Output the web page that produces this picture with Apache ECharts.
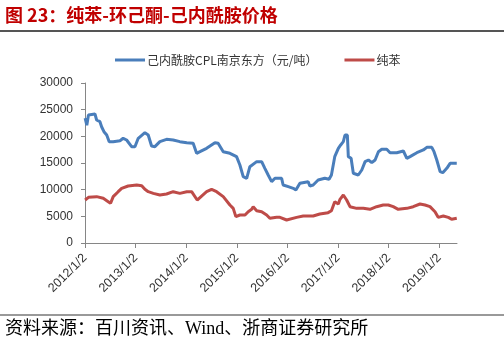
<!DOCTYPE html>
<html><head><meta charset="utf-8">
<script src="https://cdn.jsdelivr.net/npm/echarts@6/dist/echarts.min.js"></script>
<style>html,body{margin:0;padding:0;background:#fff}#c{width:504px;height:343px}</style>
</head><body><div id="c"></div>
<script>
const cplName = '己内酰胺CPL南京东方（元/吨）';
const benzeneName = '纯苯';
const xTickYears = [2012, 2013, 2014, 2015, 2016, 2017, 2018, 2019];
const yTicks = [0, 5000, 10000, 15000, 20000, 25000, 30000];

const cplDates = ['2012-01-02','2012-01-14','2012-01-26','2012-03-13','2012-03-25','2012-04-18','2012-04-30','2012-05-17','2012-06-06','2012-06-24','2012-07-23','2012-09-10','2012-10-03','2012-10-28','2012-12-03','2012-12-27','2013-01-20','2013-03-09','2013-04-02','2013-04-26','2013-05-20','2013-06-25','2013-08-12','2013-09-29','2013-11-16','2014-01-05','2014-02-20','2014-03-17','2014-04-10','2014-05-28','2014-07-27','2014-08-19','2014-09-25','2014-11-12','2014-12-30','2015-01-23','2015-02-16','2015-03-13','2015-04-05','2015-05-24','2015-06-29','2015-07-22','2015-08-15','2015-09-09','2015-10-03','2015-11-20','2015-12-01','2016-01-07','2016-02-12','2016-03-02','2016-03-31','2016-04-12','2016-05-30','2016-06-11','2016-07-05','2016-08-10','2016-09-27','2016-10-28','2016-11-14','2016-12-08','2017-01-03','2017-01-20','2017-02-08','2017-02-20','2017-03-09','2017-03-16','2017-04-05','2017-04-21','2017-05-27','2017-06-21','2017-07-15','2017-08-08','2017-09-01','2017-09-25','2017-10-19','2017-11-12','2017-12-18','2018-01-11','2018-02-28','2018-04-17','2018-05-12','2018-06-04','2018-07-23','2018-09-08','2018-10-03','2018-11-08','2018-11-24','2018-12-14','2019-01-07','2019-01-26','2019-02-24','2019-03-20','2019-05-07'];
const cplValues = [23400,22100,24000,24200,23060,22750,21800,20870,20250,19000,19000,19180,19630,19310,18060,18060,19630,20680,20250,18190,18060,19000,19440,19310,19000,18810,18690,16820,17120,17750,18810,18690,17120,16820,16190,14630,12430,12130,14310,15250,15250,14000,12750,11500,12130,12130,10880,10560,10250,9940,11190,11500,11500,10690,10880,11810,12130,11940,12750,16190,17750,18380,19000,20250,20250,16190,15880,13070,12750,13690,15250,15560,15060,15560,17120,17570,17570,16930,16930,17250,15880,16190,16930,17440,17940,17940,17120,15560,13370,13190,14000,14940,14940];

const benzeneDates = ['2012-01-02','2012-01-26','2012-03-25','2012-05-12','2012-06-17','2012-07-04','2012-07-23','2012-08-28','2012-09-22','2012-11-08','2013-01-09','2013-02-14','2013-03-09','2013-04-02','2013-05-09','2013-06-25','2013-08-12','2013-09-29','2013-11-16','2014-01-05','2014-02-09','2014-03-21','2014-04-22','2014-05-28','2014-07-03','2014-08-08','2014-09-25','2014-11-12','2014-12-06','2014-12-25','2015-01-23','2015-03-01','2015-03-24','2015-04-18','2015-04-29','2015-05-24','2015-06-29','2015-08-04','2015-08-27','2015-10-15','2015-11-08','2015-12-26','2016-03-07','2016-04-24','2016-07-05','2016-08-22','2016-10-21','2016-11-14','2016-12-08','2017-01-03','2017-01-15','2017-02-08','2017-03-04','2017-03-28','2017-05-15','2017-07-02','2017-08-19','2017-10-06','2017-11-23','2017-12-29','2018-02-03','2018-03-11','2018-05-12','2018-06-27','2018-08-15','2018-09-20','2018-10-26','2018-12-01','2018-12-24','2019-01-30','2019-03-07','2019-03-31','2019-05-07'];
const benzeneValues = [8060,8560,8690,8380,7750,7440,8690,9620,10250,10690,10880,10750,10060,9620,9310,9000,9190,9620,9310,9620,9620,8060,8810,9620,10060,9620,8690,7130,6500,4940,5250,5250,5870,6310,6810,6060,5870,5250,4630,4810,4810,4310,4810,5060,5060,5440,5690,6060,7750,7310,8190,9000,8060,6810,6500,6500,6310,6810,7130,7130,6810,6310,6500,6810,7310,7130,6810,5870,4810,5060,4810,4440,4630];

function decYear(s) {
  const p = s.split('-').map(Number);
  const t = Date.UTC(p[0], p[1] - 1, p[2]);
  const t0 = Date.UTC(p[0], 0, 1), t1 = Date.UTC(p[0] + 1, 0, 1);
  return p[0] + (t - t0) / (t1 - t0);
}
const pairs = (d, v) => d.map((s, i) => [decYear(s), v[i]]);

const chart = echarts.init(document.getElementById('c'));
const axisColor = '#868686';
const labelFont = '"Liberation Sans", Arial, sans-serif';
chart.setOption({
  animation: false,
  backgroundColor: '#fff',
  grid: { left: 85, right: 47, top: 83, bottom: 100 },
  legend: {
    top: 49, left: 110, itemWidth: 30, itemHeight: 3, itemGap: 27, icon: 'rect',
    textStyle: { fontSize: 12, color: '#333', fontFamily: '"Noto Sans CJK SC", sans-serif', padding: [0,0,0,-3] },
    data: [cplName, benzeneName]
  },
  xAxis: {
    type: 'value', min: 2012, max: 2019.35,
    axisLine: { show: true, lineStyle: { color: axisColor, width: 1 } },
    axisTick: { show: true, length: 5, lineStyle: { color: axisColor }, customValues: xTickYears },
    axisLabel: { rotate: 45, margin: 13, fontSize: 12.5, color: '#333', fontFamily: labelFont,
      customValues: xTickYears, formatter: v => Math.round(v) + '/1/2' },
    splitLine: { show: false }
  },
  yAxis: {
    type: 'value', min: 0, max: 30000, interval: 5000,
    axisLine: { show: true, lineStyle: { color: axisColor, width: 1 } },
    axisTick: { show: true, length: 4, lineStyle: { color: axisColor } },
    axisLabel: { margin: 12, fontSize: 12, color: '#333', fontFamily: labelFont, formatter: v => String(v) },
    splitLine: { show: false }
  },
  series: [
    { name: cplName, type: 'line', symbol: 'none', data: pairs(cplDates, cplValues),
      lineStyle: { color: '#4a7ebb', width: 3 }, itemStyle: { color: '#4a7ebb' } },
    { name: benzeneName, type: 'line', symbol: 'none', data: pairs(benzeneDates, benzeneValues),
      lineStyle: { color: '#be4b48', width: 3 }, itemStyle: { color: '#be4b48' } }
  ],
  graphic: [
    { type: 'text', left: 5, top: 6, style: { text: '图 23：纯苯-环己酮-己内酰胺价格', fontSize: 18, fontWeight: 'bold',
      fill: '#c00000', fontFamily: '"Noto Sans CJK SC", sans-serif' } },
    { type: 'line', shape: { x1: 0, y1: 31, x2: 504, y2: 31 }, style: { stroke: '#555', lineWidth: 2 } },
    { type: 'line', shape: { x1: 0, y1: 315, x2: 504, y2: 315 }, style: { stroke: '#777', lineWidth: 1.5 } },
    { type: 'text', left: 5, top: 320, style: { text: '资料来源：百川资讯、Wind、浙商证券研究所', fontSize: 18,
      fill: '#000', fontFamily: '"Liberation Serif", "Noto Sans CJK SC", serif' } }
  ]
});
</script></body></html>
